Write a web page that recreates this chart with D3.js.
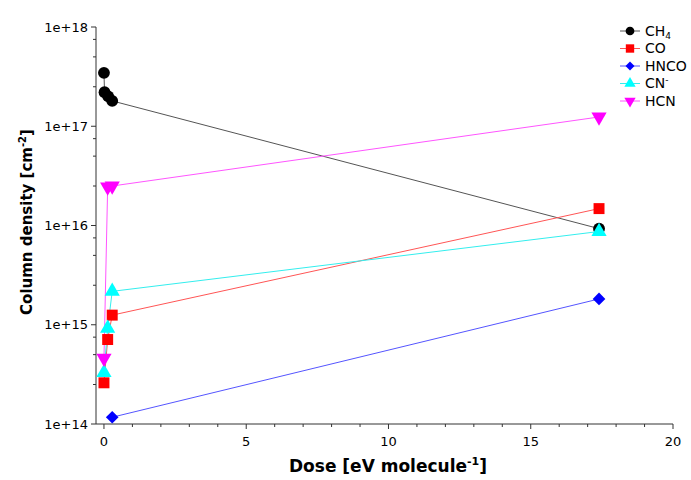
<!DOCTYPE html>
<html>
<head>
<meta charset="utf-8">
<script src="https://cdn.jsdelivr.net/npm/d3@7"></script>
<style>
  html, body { margin: 0; padding: 0; background: #fff; }
  svg { display: block; font-family: "DejaVu Sans", Verdana, sans-serif; }
</style>
</head>
<body>
<svg id="chart" width="691" height="480"></svg>
<script>
// Column densities of irradiated ice species versus absorbed dose
const ch4Dose   = [0, 0.02, 0.15, 0.29, 17.4];
const ch4Col    = [3.45e17, 2.2e17, 2.0e17, 1.8e17, 9.3e15];
const coDose    = [0, 0.13, 0.29, 17.4];
const coCol     = [2.6e14, 7.1e14, 1.25e15, 1.48e16];
const hncoDose  = [0.29, 17.4];
const hncoCol   = [1.17e14, 1.82e15];
const cnDose    = [0, 0.13, 0.29, 17.4];
const cnCol     = [3.3e14, 9.2e14, 2.17e15, 8.7e15];
const hcnDose   = [0, 0.13, 0.29, 17.4];
const hcnCol    = [4.6e14, 2.45e16, 2.5e16, 1.24e17];

const seriesNames  = ["CH4", "CO", "HNCO", "CN-", "HCN"];
const xTickValues  = [0, 5, 10, 15, 20];
const yTickValues  = [1e14, 1e15, 1e16, 1e17, 1e18];
const yTickLabels  = ["1e+14", "1e+15", "1e+16", "1e+17", "1e+18"];

const series = [
  { name: seriesNames[0], dose: ch4Dose,  col: ch4Col,  color: "#000000", line: "#555555", sym: d3.symbolCircle,   size: 110, lsize: 60 },
  { name: seriesNames[1], dose: coDose,   col: coCol,   color: "#ff0000", line: "#ff5555", sym: d3.symbolSquare,   size: 120, lsize: 70 },
  { name: seriesNames[2], dose: hncoDose, col: hncoCol, color: "#0000ff", line: "#5555ff", sym: d3.symbolSquare,   size: 80,  lsize: 40, rot: 45 },
  { name: seriesNames[3], dose: cnDose,   col: cnCol,   color: "#00ffff", line: "#33eeee", sym: d3.symbolTriangle, size: 100, lsize: 55 },
  { name: seriesNames[4], dose: hcnDose,  col: hcnCol,  color: "#ff00ff", line: "#ff55ff", sym: d3.symbolTriangle, size: 100, lsize: 55, rot: 180 }
];

const svg = d3.select("#chart");
const plotL = 96, plotR = 673, plotT = 27, plotB = 424;

const x = d3.scaleLinear().domain([-0.28, 20]).range([plotL, plotR]);
const y = d3.scaleLog().domain([1e14, 1e18]).range([plotB, plotT]);

// x axis with unit minor ticks
const xAxis = svg.append("g").attr("transform", `translate(0,${plotB})`);
xAxis.append("line").attr("x1", plotL).attr("x2", plotR).attr("stroke", "#333");
xAxis.selectAll("line.minor").data(d3.range(1, 20).filter(v => v % 5 !== 0)).join("line")
  .attr("class", "minor").attr("x1", d => x(d)).attr("x2", d => x(d))
  .attr("y1", 0).attr("y2", 3).attr("stroke", "#333");
xAxis.selectAll("line.major").data(xTickValues).join("line")
  .attr("class", "major").attr("x1", d => x(d)).attr("x2", d => x(d))
  .attr("y1", 0).attr("y2", 5).attr("stroke", "#333");
xAxis.selectAll("text").data(xTickValues).join("text")
  .attr("x", d => x(d)).attr("y", 22).attr("text-anchor", "middle")
  .attr("font-size", 13).attr("fill", "#000").text(d => d);

// y axis with minor ticks at 2.5, 5 and 7.5 per decade
const yAxis = svg.append("g").attr("transform", `translate(${plotL},0)`);
yAxis.append("line").attr("y1", plotT).attr("y2", plotB).attr("stroke", "#333");
const minorY = [];
for (let e = 14; e < 18; e++) [2.5, 5, 7.5].forEach(m => minorY.push(m * Math.pow(10, e)));
yAxis.selectAll("line.minor").data(minorY).join("line")
  .attr("class", "minor").attr("y1", d => y(d)).attr("y2", d => y(d))
  .attr("x1", 0).attr("x2", -3).attr("stroke", "#333");
yAxis.selectAll("line.major").data(yTickValues).join("line")
  .attr("class", "major").attr("y1", d => y(d)).attr("y2", d => y(d))
  .attr("x1", 0).attr("x2", -5).attr("stroke", "#333");
yAxis.selectAll("text").data(yTickValues).join("text")
  .attr("x", -8).attr("y", d => y(d)).attr("dy", "0.35em").attr("text-anchor", "end")
  .attr("font-size", 13).attr("fill", "#000").text((d, i) => yTickLabels[i]);

// axis titles
const xt = svg.append("text").attr("x", 388).attr("y", 472).attr("text-anchor", "middle")
  .attr("font-size", 17).attr("font-weight", "bold").attr("fill", "#000");
xt.append("tspan").text("Dose [eV molecule");
xt.append("tspan").attr("dy", -7).attr("font-size", 11).text("-1");
xt.append("tspan").attr("dy", 7).text("]");

const yt = svg.append("text").attr("transform", "translate(32,222) rotate(-90)")
  .attr("text-anchor", "middle").attr("font-size", 15).attr("font-weight", "bold").attr("fill", "#000");
yt.append("tspan").text("Column density [cm");
yt.append("tspan").attr("dy", -6).attr("font-size", 10).text("-2");
yt.append("tspan").attr("dy", 6).text("]");

// lines then markers
const line = d3.line().x(d => x(d[0])).y(d => y(d[1]));
series.forEach(s => {
  const pts = s.dose.map((d, i) => [d, s.col[i]]);
  svg.append("path").datum(pts).attr("d", line)
    .attr("fill", "none").attr("stroke", s.line).attr("stroke-width", 1);
});
series.forEach(s => {
  const pts = s.dose.map((d, i) => [d, s.col[i]]);
  svg.append("g").selectAll("path").data(pts).join("path")
    .attr("d", d3.symbol().type(s.sym).size(s.size))
    .attr("transform", d => `translate(${x(d[0])},${y(d[1])})${s.rot ? ` rotate(${s.rot})` : ""}`)
    .attr("fill", s.color);
});

// legend
const legend = svg.append("g");
series.forEach((s, i) => {
  const ly = 31 + i * 17.5;
  const g = legend.append("g").attr("transform", `translate(0,${ly})`);
  g.append("line").attr("x1", 620).attr("x2", 640).attr("stroke", s.line).attr("stroke-width", 1);
  g.append("path").attr("d", d3.symbol().type(s.sym).size(s.lsize)())
    .attr("transform", `translate(630,0)${s.rot ? ` rotate(${s.rot})` : ""}`).attr("fill", s.color);
  const t = g.append("text").attr("x", 645).attr("dy", "0.35em").attr("font-size", 14).attr("fill", "#000");
  if (s.name === "CH4") {
    t.append("tspan").text("CH");
    t.append("tspan").attr("dy", 3).attr("font-size", 9).text("4");
  } else if (s.name === "CN-") {
    t.append("tspan").text("CN");
    t.append("tspan").attr("dy", -5).attr("font-size", 9).text("-");
  } else {
    t.text(s.name);
  }
});
</script>
</body>
</html>
